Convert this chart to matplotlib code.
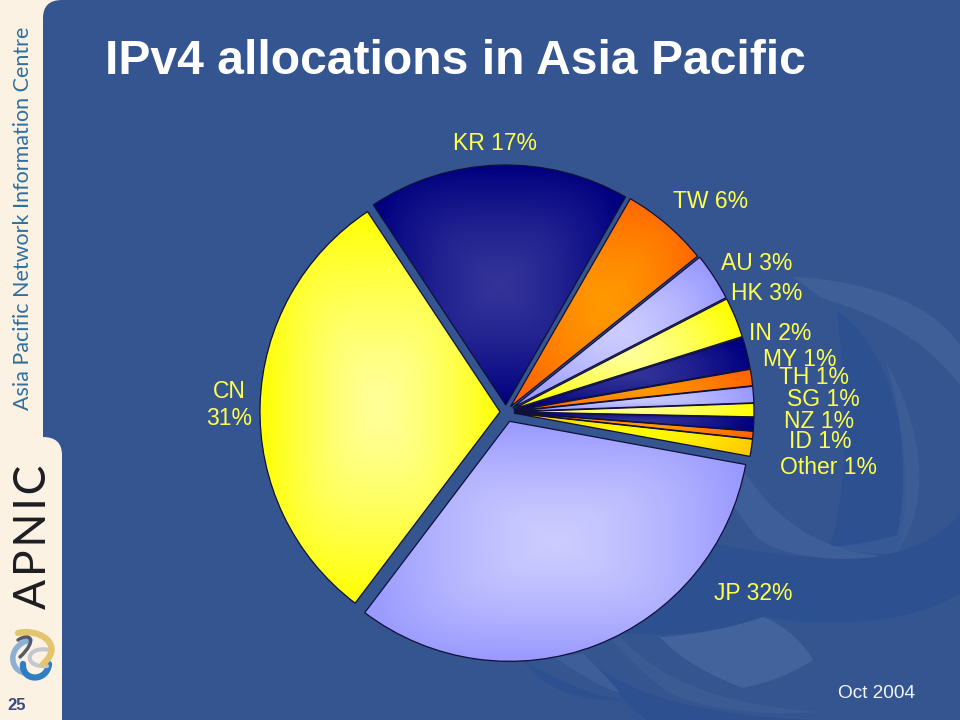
from matplotlib import pyplot as plt
from matplotlib.path import Path
from matplotlib.patches import PathPatch
from matplotlib.colors import to_rgb
import numpy as np

plt.rcParams['font.family'] = ['Liberation Sans', 'DejaVu Sans']

# slices in pie order, clockwise from KR
categories = ['KR', 'TW', 'AU', 'HK', 'IN', 'MY', 'TH', 'SG', 'NZ', 'ID', 'Other', 'JP', 'CN']
shown_pct = [17, 6, 3, 3, 2, 1, 1, 1, 1, 1, 1, 32, 31]
shares = [17.6, 5.9, 3.2, 2.7, 2.1, 1.1, 1.1, 0.9, 0.9, 0.5, 1.15, 32.4, 30.35]

# pixel centres of the hand placed labels
label_pos = [(495, 144), (711, 201), (757, 263), (767, 294), (780, 333), (800, 359), (814, 377),
             (823, 399), (819, 421), (820, 442), (828, 467), (753, 593), (229, 405)]

explode = [7, 7, 8, 8, 8, 8, 8, 8, 8, 8, 8, 10, 6]

NAVY = ('#333399', '#000080')
ORANGE = ('#FF9900', '#FF6600')
LIGHT = ('#CCCCFF', '#9999FF')
YELLOW = ('#FFFF99', '#FFFF00')
GOLD = ('#FFFF00', '#FFCC00')
slice_colors = [NAVY, ORANGE, LIGHT, YELLOW, NAVY, ORANGE, LIGHT, YELLOW, NAVY, ORANGE, GOLD,
                LIGHT, YELLOW]

BLUE = '#34558F'
CREAM = '#FBF2E4'
DARK = '#2D5190'
PALE = '#42639C'
LABEL = '#FFFF4D'


def py(y):
    return 720 - y


def curve_path(start, segments):
    verts = [(start[0], py(start[1]))]
    codes = [Path.MOVETO]
    for seg in segments:
        for x, y in seg:
            verts.append((x, py(y)))
        codes += [Path.CURVE4] * 3
    verts.append(verts[0])
    codes.append(Path.CLOSEPOLY)
    return Path(verts, codes)


fig = plt.figure(figsize=(9.6, 7.2), dpi=100, facecolor=CREAM)
ax = fig.add_axes([0, 0, 1, 1])

# blue panel with the two rounded corners
panel = Path(
    [(62, 0), (62, py(455)), (62, py(437)), (43, py(437)), (43, py(18)), (43, py(0)), (62, py(0)),
     (960, py(0)), (960, 0), (62, 0)],
    [Path.MOVETO, Path.LINETO, Path.CURVE3, Path.CURVE3, Path.LINETO, Path.CURVE3, Path.CURVE3,
     Path.LINETO, Path.LINETO, Path.CLOSEPOLY])
panel_patch = PathPatch(panel, facecolor=BLUE, edgecolor='none', zorder=0)
ax.add_patch(panel_patch)

# swirl in the background
swirls = [
    # big dark area under the crescent
    (DARK, 1, (700, 540), [[(760, 555), (850, 565), (897, 552)], [(925, 545), (945, 530), (960, 515)],
                           [(960, 540), (960, 570), (960, 593)], [(925, 615), (880, 625), (800, 622)],
                           [(785, 620), (775, 618), (763, 617)], [(730, 630), (690, 637), (620, 633)],
                           [(650, 600), (680, 570), (700, 540)]]),
    # dark inside of the ring
    (DARK, 1, (837, 310), [[(885, 345), (905, 420), (905, 480)], [(905, 510), (905, 530), (897, 552)],
                           [(870, 552), (850, 550), (830, 545)], [(845, 500), (850, 430), (837, 310)]]),
    # pale ring
    (PALE, 0.75, (793, 277), [[(860, 280), (930, 300), (960, 345)], [(960, 360), (960, 375), (960, 385)],
                              [(925, 340), (880, 315), (827, 300)], [(815, 295), (805, 285), (793, 277)]]),
    (PALE, 0.5, (885, 360), [[(920, 420), (935, 500), (897, 552)], [(880, 555), (855, 552), (830, 547)],
                             [(860, 545), (880, 540), (897, 535)], [(908, 490), (905, 420), (885, 360)]]),
    (PALE, 0.7, (745, 473), [[(770, 510), (810, 550), (880, 556)], [(850, 562), (790, 560), (760, 540)],
                             [(750, 530), (740, 515), (733, 505)], [(738, 495), (742, 485), (745, 473)]]),
    # pale patch right of the pie bottom
    (PALE, 1, (660, 637), [[(700, 635), (740, 625), (763, 617)], [(785, 625), (805, 645), (813, 660)],
                           [(790, 675), (770, 682), (743, 688)], [(710, 675), (680, 660), (660, 637)]]),
    (PALE, 0.45, (620, 637), [[(660, 680), (720, 705), (820, 712)], [(780, 716), (700, 712), (665, 690)],
                              [(645, 675), (625, 655), (612, 640)]]),
    # dark bands at the bottom
    (DARK, 1, (583, 653), [[(610, 685), (680, 715), (813, 720)], [(760, 720), (700, 720), (647, 720)],
                           [(635, 712), (628, 705), (623, 700)], [(610, 680), (595, 665), (583, 653)]]),
    (DARK, 1, (523, 660), [[(555, 680), (590, 695), (623, 700)], [(595, 702), (565, 695), (545, 682)],
                           [(535, 675), (528, 667), (523, 660)]]),
    (PALE, 0.7, (553, 657), [[(565, 656), (575, 655), (583, 653)], [(595, 665), (610, 680), (620, 693)],
                             [(595, 685), (575, 670), (553, 657)]]),
]
for color, alpha, start, segments in swirls:
    shape = PathPatch(curve_path(start, segments), facecolor=color, edgecolor='none', alpha=alpha,
                      zorder=0.5)
    ax.add_patch(shape)
    shape.set_clip_path(panel_patch)

labels = [f'{c}\n{p}%' if c == 'CN' else f'{c} {p}%' for c, p in zip(categories, shown_pct)]
wedges, texts = ax.pie(shares, labels=labels, startangle=123.5, counterclock=False,
                       center=(506, py(412)), radius=240, explode=explode,
                       colors=[c[1] for c in slice_colors],
                       textprops={'color': LABEL, 'fontsize': 16.5},
                       wedgeprops={'edgecolor': '#10103A', 'linewidth': 0.9})

# each slice has a centre out gradient over its own bounding box
for wedge, colors in zip(wedges, slice_colors):
    box = wedge.get_path().get_extents()
    xs = np.linspace(-1, 1, 200)
    gx, gy = np.meshgrid(xs, xs)
    t = np.clip((np.abs(gx) ** 4 + np.abs(gy) ** 4) ** (1 / 4), 0, 1)[..., None] ** 1.4
    inner = np.array(to_rgb(colors[0]))
    outer = np.array(to_rgb(colors[1]))
    im = ax.imshow(inner * (1 - t) + outer * t, extent=(box.x0, box.x1, box.y0, box.y1),
                   aspect='auto', zorder=2, interpolation='bilinear')
    im.set_clip_path(wedge)
    wedge.set_facecolor('none')
    wedge.set_zorder(3)

for text, (x, y) in zip(texts, label_pos):
    text.set_position((x, py(y)))
    text.set_ha('center')
    text.set_va('center')
    text.set_zorder(5)

ax.text(105, py(62), 'IPv4 allocations in Asia Pacific', color='white', fontsize=34.6,
        fontweight='bold', ha='left', va='center')
ax.text(876, py(693), 'Oct 2004', color='#F2F5FF', fontsize=13.7, ha='center', va='center')

# sidebar
ax.text(23, py(218), 'Asia Pacific Network Information Centre', color='#2F6F9F', fontsize=15.5,
        family='Lato', rotation=90, ha='center', va='center')
ax.text(34, py(537), 'A\u200aP\u200aN\u200aI\u200aC', color='#1E1E22', fontsize=32, family='Lato',
        rotation=90, ha='center', va='center')
ax.text(17, py(706), '25', color='#3C4A80', fontsize=12, fontweight='bold', ha='center', va='center')

# logo strokes
logo = [
    ('#8DB0D4', (30, 640), (8, 645), (8, 670), (25, 673), 4),
    ('#2F7EC2', (23, 664), (22, 682), (47, 682), (49, 664), 4.5),
    ('#555B66', (18, 640), (30, 632), (38, 640), (20, 657), 2.5),
    ('#C4C8CE', (50, 650), (25, 645), (22, 668), (47, 666), 3),
    ('#E2C56C', (18, 633), (40, 628), (65, 645), (43, 664), 4.5),
]
for color, p0, p1, p2, p3, width in logo:
    ctrl = [(x, py(y)) for x, y in (p0, p1, p2, p3)]
    stroke = Path(ctrl, [Path.MOVETO, Path.CURVE4, Path.CURVE4, Path.CURVE4])
    ax.add_patch(PathPatch(stroke, facecolor='none', edgecolor=color, linewidth=width,
                           capstyle='round', zorder=1))

ax.set_xlim(0, 960)
ax.set_ylim(0, 720)
ax.set_aspect('auto')
ax.axis('off')

fig.savefig('out.png', dpi=100, facecolor=CREAM)
